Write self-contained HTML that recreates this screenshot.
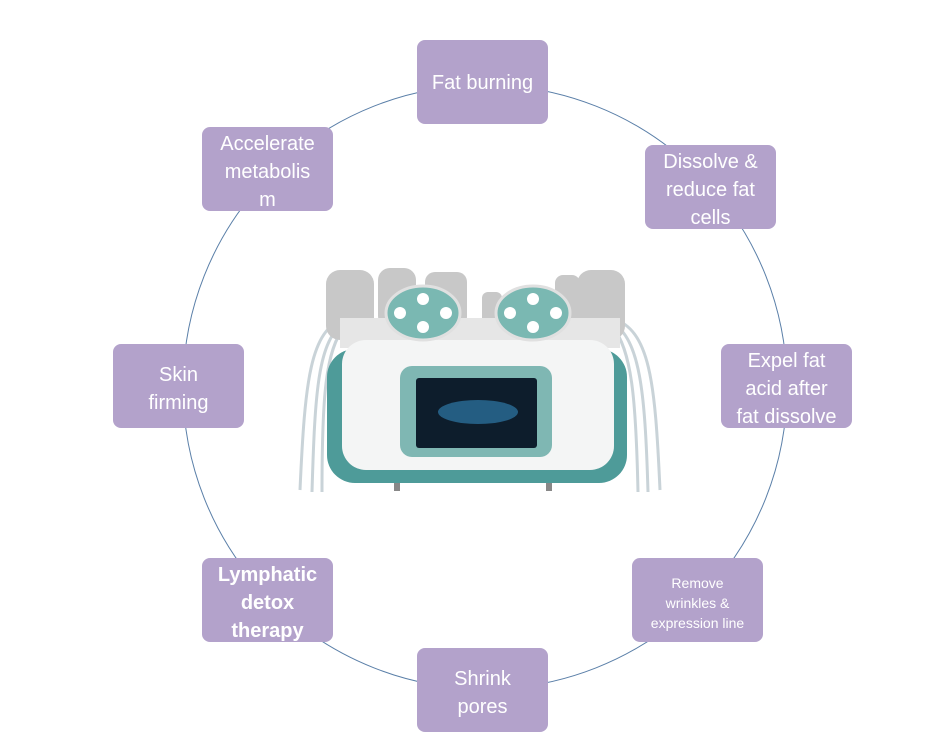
<!DOCTYPE html>
<html><head><meta charset="utf-8"><style>
body{margin:0;background:#fff;width:935px;height:756px;overflow:hidden;position:relative;font-family:"Liberation Sans",sans-serif}
.b{position:absolute;width:131px;height:84px;box-sizing:border-box;padding-top:5px;background:#b3a2cb;border-radius:8px;color:#fff;display:flex;align-items:center;justify-content:center;text-align:center;font-size:20px;line-height:28px}
svg{position:absolute;left:0;top:0}
</style></head><body>
<svg width="935" height="756">
<circle cx="485" cy="387" r="302" fill="none" stroke="#5a7fa8" stroke-width="1"/>
<g fill="none" stroke="#c9d3d8" stroke-width="3">
<path d="M345 318 C310 330 305 380 300 490"/><path d="M345 322 C318 340 315 390 312 492"/><path d="M345 326 C325 350 322 400 322 492"/>
<path d="M612 318 C650 330 655 380 660 490"/><path d="M612 322 C640 340 645 390 648 492"/><path d="M612 326 C632 350 636 400 638 492"/>
</g>
<g fill="#c8c8c8">
<rect x="326" y="270" width="48" height="70" rx="14"/><rect x="378" y="268" width="38" height="60" rx="12"/><rect x="425" y="272" width="42" height="55" rx="10"/>
<rect x="482" y="292" width="20" height="35" rx="6"/><rect x="555" y="275" width="25" height="50" rx="8"/><rect x="577" y="270" width="48" height="70" rx="14"/>
</g>
<rect x="340" y="318" width="280" height="30" fill="#e6e6e6"/>
<rect x="327" y="349" width="300" height="134" rx="28" fill="#4e9b99"/>
<rect x="342" y="340" width="272" height="130" rx="24" fill="#f4f5f5"/>
<rect x="400" y="366" width="152" height="91" rx="12" fill="#7fb7b3"/>
<rect x="416" y="378" width="121" height="70" rx="3" fill="#0d1d2c"/>
<ellipse cx="478" cy="412" rx="40" ry="12" fill="#2b6e98" opacity=".8"/>
<rect x="394" y="483" width="6" height="8" fill="#888"/><rect x="546" y="483" width="6" height="8" fill="#888"/>
<g fill="#7ab8b2" stroke="#e0e0e0" stroke-width="3">
<ellipse cx="423" cy="313" rx="37" ry="27"/><ellipse cx="533" cy="313" rx="37" ry="27"/></g>
<g fill="#fff">
<circle cx="423" cy="299" r="6"/><circle cx="423" cy="327" r="6"/><circle cx="400" cy="313" r="6"/><circle cx="446" cy="313" r="6"/>
<circle cx="533" cy="299" r="6"/><circle cx="533" cy="327" r="6"/><circle cx="510" cy="313" r="6"/><circle cx="556" cy="313" r="6"/>
</g>
</svg>
<div class="b" style="left:417px;top:40px;padding-top:2px">Fat burning</div>
<div class="b" style="left:202px;top:127px">Accelerate<br>metabolis<br>m</div>
<div class="b" style="left:645px;top:145px">Dissolve &amp;<br>reduce fat<br>cells</div>
<div class="b" style="left:113px;top:344px">Skin<br>firming</div>
<div class="b" style="left:721px;top:344px">Expel fat<br>acid after<br>fat dissolve</div>
<div class="b" style="left:202px;top:558px;font-weight:bold">Lymphatic<br>detox<br>therapy</div>
<div class="b" style="left:632px;top:558px;font-size:14px;line-height:20px">Remove<br>wrinkles &amp;<br>expression line</div>
<div class="b" style="left:417px;top:648px">Shrink<br>pores</div>
</body></html>
